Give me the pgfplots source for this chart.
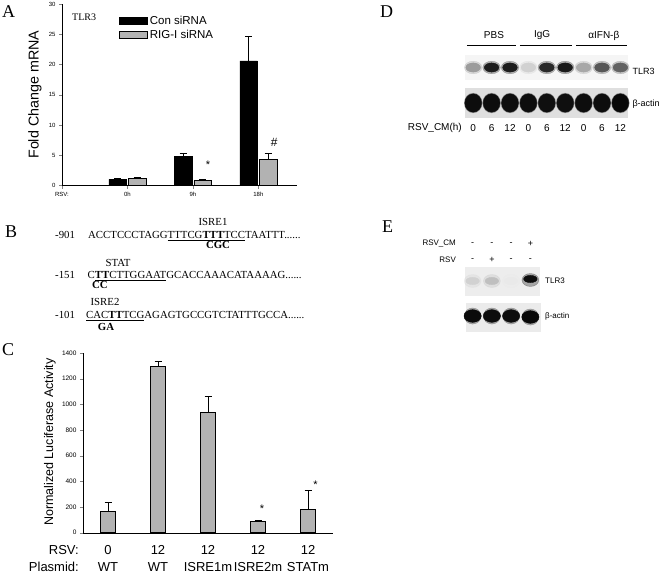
\documentclass[border=0pt]{standalone}
\usepackage{fontspec}
\setmainfont{Liberation Sans}
\newfontfamily\tnr{Liberation Serif}
\usepackage{pgfplots}
\pgfplotsset{compat=1.18}
\pgfplotsset{
  colormap={blot}{gray(0cm)=(0.93); gray(1cm)=(0.03)},
  blotaxis/.style={scale only axis, hide axis, clip=false,
     point meta min=0, point meta max=1, colormap name=blot},
  band/.style={scatter, only marks, mark=*, point meta=explicit,
     scatter/use mapped color={draw=mapped color, fill=mapped color}},
  myerr/.style={error bars/.cd, y dir=plus, y explicit,
     error bar style={line width=0.8pt},
     error mark options={rotate=90, mark size=3.5pt, line width=0.8pt}},
}
\newcommand{\panel}[3]{\node[font=\tnr\fontsize{18}{20}\selectfont, anchor=base west, inner sep=0pt] at (#1pt,-#2pt) {#3};}
\newcommand{\seq}[3]{\node[font=\tnr\fontsize{10.8}{12}\selectfont, anchor=base west, inner sep=0pt] at (#1pt,-#2pt) {#3};}
\newcommand{\seqc}[3]{\node[font=\tnr\fontsize{10.8}{12}\selectfont, anchor=base, inner sep=0pt] at (#1pt,-#2pt) {#3};}
\newcommand{\lab}[4]{\node[font=\fontsize{#1}{#1}\selectfont, inner sep=0pt] at (axis cs:#2,#3) {#4};}
\begin{document}
\begin{tikzpicture}
\useasboundingbox (0,0) rectangle (664pt,-574pt);

% ---------------- Panel A ----------------
\begin{axis}[at={(62pt,-185.5pt)}, anchor=south west, scale only axis,
  width=235pt, height=181.5pt,
  xmin=0, xmax=3.59, ymin=0, ymax=30,
  axis x line*=bottom, axis y line*=left,
  xtick={0,1,2,3}, xticklabels={RSV:,0h,9h,18h},
  ytick={0,5,...,30},
  tick align=outside, major tick length=3pt,
  tick label style={font=\fontsize{6}{7}\selectfont},
  /pgf/number format/assume math mode=true,
  ylabel={Fold Change mRNA},
  ylabel style={font=\fontsize{14.3}{16}\selectfont, at={(axis description cs:-0.115,0.5)}, anchor=center},
  ybar, bar width=17.5pt,
  legend image code/.code={\draw[#1, line width=0.6pt] (0pt,-3.5pt) rectangle (28pt,3.5pt);},
  legend style={at={(rel axis cs:0.23,0.955)}, anchor=north west, draw=none, fill=none,
     font=\fontsize{11.5}{13}\selectfont, row sep=0pt},
  legend cell align=left,
  clip=false]
\addplot[fill=black, draw=black, line width=0.6pt, bar shift=-9.75pt, myerr]
  coordinates {(1,1.0) +- (0,0.15) (2,4.85) +- (0,0.45) (3,20.6) +- (0,4.1)};
\addplot[fill=gray!60, draw=black, line width=0.6pt, bar shift=9.75pt, myerr]
  coordinates {(1,1.2) +- (0,0.2) (2,0.8) +- (0,0.15) (3,4.3) +- (0,1.0)};
\legend{Con siRNA, RIG-I siRNA}
\node[font=\fontsize{11}{12}\selectfont] at (axis cs:2.23,3.5) {*};
\node[font=\fontsize{12}{13}\selectfont] at (axis cs:3.24,7.2) {\#};
\end{axis}
\node[font=\tnr\fontsize{10}{11}\selectfont, anchor=base west, inner sep=0pt] at (72pt,-20pt) {TLR3};

% ---------------- Panel C ----------------
\begin{axis}[at={(83pt,-532.7pt)}, anchor=south west, scale only axis,
  width=250pt, height=179.7pt,
  xmin=0.5, xmax=5.5, ymin=0, ymax=1400,
  axis x line*=bottom, axis y line*=left,
  xtick={1,...,5},
  xticklabels={{0\\WT},{12\\WT},{12\\ISRE1m},{12\\ISRE2m},{12\\STATm}},
  xticklabel style={align=center, font=\fontsize{13}{17}\selectfont, inner sep=0pt, yshift=-10pt},
  xtick style={draw=none},
  ytick={0,200,...,1400},
  yticklabel style={font=\fontsize{6.5}{7}\selectfont},
  scaled y ticks=false,
  /pgf/number format/1000 sep={},
  /pgf/number format/assume math mode=true,
  tick align=outside, major tick length=3pt,
  ylabel={Normalized Luciferase Activity},
  ylabel style={font=\fontsize{12.5}{14}\selectfont, at={(axis description cs:-0.132,0.505)}, anchor=center},
  ybar, bar width=15pt,
  clip=false]
\addplot[fill=gray!60, draw=black, line width=0.7pt, myerr]
  coordinates {(1,164) +- (0,70) (2,1293) +- (0,39) (3,938) +- (0,121) (4,91) +- (0,8) (5,179) +- (0,148)};
\node[font=\fontsize{11}{12}\selectfont] at (axis cs:4.08,185) {*};
\node[font=\fontsize{11}{12}\selectfont] at (axis cs:5.15,375) {*};
\end{axis}
\node[font=\fontsize{13}{17}\selectfont, align=right, anchor=north east, inner sep=0pt] at (79pt,-545.7pt) {RSV:\\Plasmid:};

% ---------------- Panel B text ----------------
\seqc{213}{225.6}{ISRE1}
\seq{55}{238.6}{-901}
\seq{88}{238.6}{ACCTCCCTAGG\underline{TTTCG\textbf{TTT}TCC}TAATTT......}
\seqc{218}{248.6}{\textbf{CGC}}
\seqc{118}{266.6}{STAT}
\seq{55}{278.6}{-151}
\seq{87.5}{278.6}{C\underline{\textbf{TT}CTTGGAAT}GCACCAAACATAAAAG......}
\seqc{100}{288.6}{\textbf{CC}}
\seqc{105}{305.6}{ISRE2}
\seq{55}{318.6}{-101}
\seq{86}{318.6}{\underline{CAC\textbf{TT}TCG}AGAGTGCCGTCTATTTGCCA......}
\seqc{106}{330.6}{\textbf{GA}}

% ---------------- Panel D ----------------
\begin{axis}[blotaxis, at={(464pt,-118pt)}, anchor=south west,
  width=165.6pt, height=63pt, xmin=0.5, xmax=9.5, ymin=-118, ymax=-55]
\fill[gray!8] (axis cs:0.55,-80) rectangle (axis cs:9.41,-55);
\fill[gray!25] (axis cs:0.55,-118) rectangle (axis cs:9.41,-88);
\addplot[band, mark size=6.3pt, mark options={xscale=1.4, opacity=0.3}]
  coordinates {(1,-67.5)[0.35] (2,-67.5)[0.9] (3,-67.5)[0.9] (4,-67.5)[0.12] (5,-67.5)[0.85] (6,-67.5)[0.92] (7,-67.5)[0.3] (8,-67.5)[0.65] (9,-67.5)[0.6]};
\addplot[band, mark size=4.6pt, mark options={xscale=1.6}]
  coordinates {(1,-67.5)[0.35] (2,-67.5)[0.9] (3,-67.5)[0.9] (4,-67.5)[0.12] (5,-67.5)[0.85] (6,-67.5)[0.92] (7,-67.5)[0.3] (8,-67.5)[0.65] (9,-67.5)[0.6]};
\addplot[band, mark size=9pt, mark options={xscale=1.0, yscale=1.1, opacity=0.3}]
  coordinates {(1,-103)[0.9] (2,-103)[0.9] (3,-103)[0.9] (4,-103)[0.9] (5,-103)[0.9] (6,-103)[0.9] (7,-103)[0.9] (8,-103)[0.9] (9,-103)[0.9]};
\addplot[band, mark size=8pt, mark options={xscale=1.05, yscale=1.15}]
  coordinates {(1,-103)[0.97] (2,-103)[0.97] (3,-103)[0.97] (4,-103)[0.97] (5,-103)[0.96] (6,-103)[0.96] (7,-103)[0.97] (8,-103)[0.97] (9,-103)[1]};
\lab{10}{2.13}{-35.5}{PBS}
\lab{10}{4.75}{-35.5}{IgG}
\lab{10}{8.1}{-35.5}{αIFN-β}
\draw[line width=0.8pt] (axis cs:0.66,-45) -- (axis cs:3.33,-45);
\draw[line width=0.8pt] (axis cs:3.54,-45) -- (axis cs:6.37,-45);
\draw[line width=0.8pt] (axis cs:6.59,-45) -- (axis cs:9.36,-45);
\node[font=\fontsize{9}{10}\selectfont, anchor=west, inner sep=0pt] at (axis cs:9.65,-71) {TLR3};
\node[font=\fontsize{9}{10}\selectfont, anchor=west, inner sep=0pt] at (axis cs:9.65,-104) {β-actin};
\node[font=\fontsize{10}{11}\selectfont, anchor=east, inner sep=0pt] at (axis cs:0.39,-128) {RSV\_CM(h)};
\lab{10}{1}{-128}{0}
\lab{10}{2}{-128}{6}
\lab{10}{3}{-128}{12}
\lab{10}{4}{-128}{0}
\lab{10}{5}{-128}{6}
\lab{10}{6}{-128}{12}
\lab{10}{7}{-128}{0}
\lab{10}{8}{-128}{6}
\lab{10}{9}{-128}{12}
\end{axis}

% ---------------- Panel E ----------------
\begin{axis}[blotaxis, at={(463pt,-332pt)}, anchor=south west,
  width=77pt, height=65pt, xmin=0.5, xmax=4.5, ymin=-332, ymax=-267]
\fill[gray!14] (axis cs:0.6,-296) rectangle (axis cs:4.5,-267);
\fill[gray!16] (axis cs:0.65,-332) rectangle (axis cs:4.55,-303);
\addplot[band, mark size=6.5pt, mark options={xscale=1.3, opacity=0.35}]
  coordinates {(1,-281)[0.1] (2,-281)[0.18] (3,-281)[0.01] (4,-280)[0.9]};
\addplot[band, mark size=4.5pt, mark options={xscale=1.5, yscale=0.8}]
  coordinates {(1,-281)[0.12] (2,-281)[0.2] (3,-281)[0.02] (4,-279)[0.97]};
\addplot[band, mark size=8.5pt, mark options={xscale=1.0, yscale=0.95, opacity=0.3}]
  coordinates {(1,-316)[0.9] (2,-316)[0.9] (3,-316)[0.9] (4,-317)[0.9]};
\addplot[band, mark size=7.5pt, mark options={xscale=1.15, yscale=0.85}]
  coordinates {(1,-316)[0.98] (2,-316)[0.97] (3,-316)[0.97] (4,-317)[1]};
\node[font=\fontsize{8}{9}\selectfont, anchor=east, inner sep=0pt] at (axis cs:0.14,-244) {RSV\_CM};
\node[font=\fontsize{8}{9}\selectfont, anchor=east, inner sep=0pt] at (axis cs:0.14,-260) {RSV};
\lab{9}{1}{-244}{-}
\lab{9}{2}{-244}{-}
\lab{9}{3}{-244}{-}
\lab{9}{4}{-244}{+}
\lab{9}{1}{-260}{-}
\lab{9}{2}{-260}{+}
\lab{9}{3}{-260}{-}
\lab{9}{4}{-260}{-}
\node[font=\fontsize{8}{9}\selectfont, anchor=west, inner sep=0pt] at (axis cs:4.76,-281) {TLR3};
\node[font=\fontsize{8}{9}\selectfont, anchor=west, inner sep=0pt] at (axis cs:4.76,-316) {β-actin};
\end{axis}

% ---------------- Panel letters ----------------
\panel{2}{17}{A}
\panel{5}{237}{B}
\panel{2}{355}{C}
\panel{380}{17}{D}
\panel{382}{232}{E}
\end{tikzpicture}
\end{document}
